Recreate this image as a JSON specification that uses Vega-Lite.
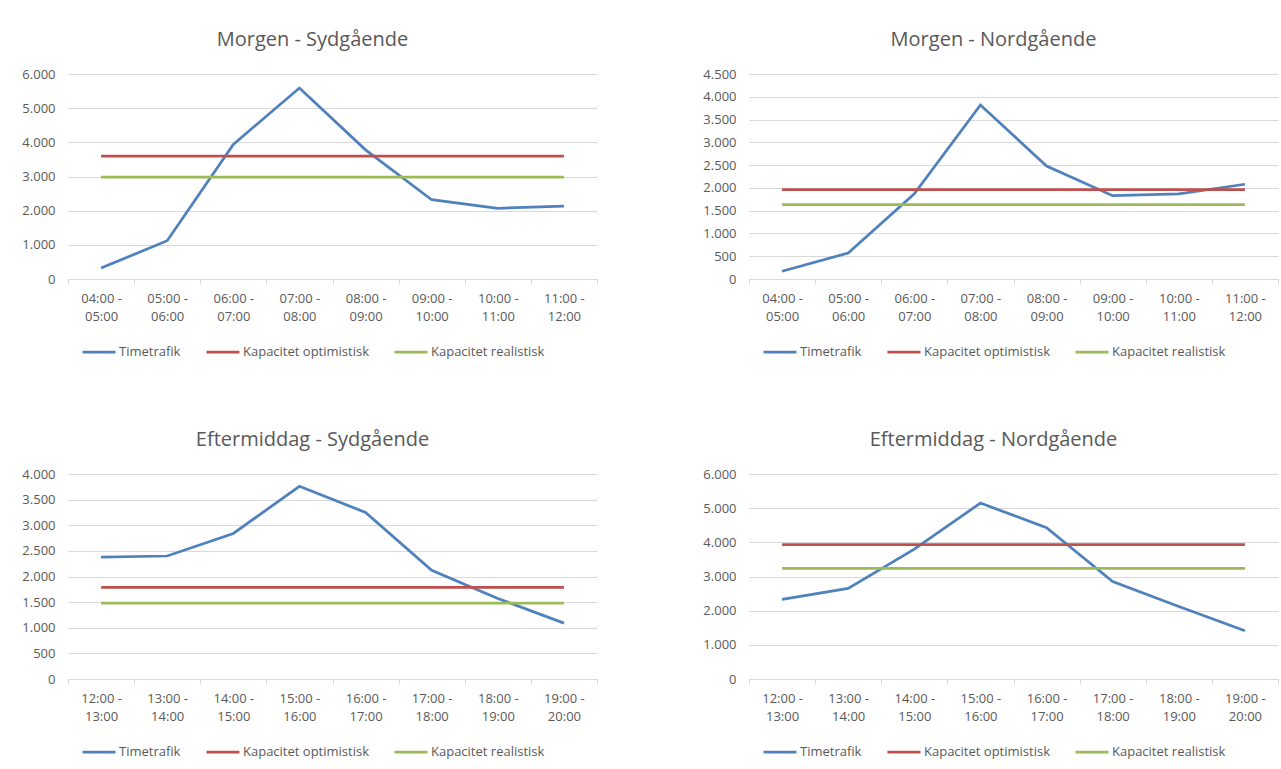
{
  "$schema": "https://vega.github.io/schema/vega-lite/v6.json",
  "background": "white",
  "padding": {"left": 21, "top": 30, "right": 0, "bottom": 0},
  "bounds": "flush",
  "columns": 2,
  "spacing": {"row": 195, "column": 152},
  "resolve": {"scale": {"color": "independent", "x": "independent", "y": "independent"}},
  "config": {
    "font": "Open Sans",
    "view": {"stroke": null},
    "axis": {"labelFont": "Open Sans", "labelFontSize": 13, "labelColor": "#595959", "gridColor": "#d9d9d9", "gridWidth": 1, "domainColor": "#d9d9d9", "tickColor": "#d9d9d9"},
    "axisX": {"grid": false, "tickBand": "extent", "tickSize": 5, "labelAngle": 0, "labelPadding": 8, "labelLineHeight": 18},
    "axisY": {"domain": false, "ticks": false, "labelPadding": 13, "grid": true},
    "legend": {"direction": "horizontal", "symbolType": "stroke", "symbolSize": 1089, "symbolStrokeWidth": 3, "labelFont": "Open Sans", "labelFontSize": 13, "labelColor": "#595959", "labelOffset": 2, "columnPadding": 20},
    "title": {"font": "Open Sans", "fontSize": 20, "fontWeight": "normal", "color": "#595959", "anchor": "middle", "dx": -20, "offset": 18},
    "line": {"strokeWidth": 2.75}
  },
  "datasets": {
    "p1": [
      {"time": "04:00 - 05:00", "series": "Timetrafik", "value": 320},
      {"time": "05:00 - 06:00", "series": "Timetrafik", "value": 1120},
      {"time": "06:00 - 07:00", "series": "Timetrafik", "value": 3940},
      {"time": "07:00 - 08:00", "series": "Timetrafik", "value": 5590},
      {"time": "08:00 - 09:00", "series": "Timetrafik", "value": 3780},
      {"time": "09:00 - 10:00", "series": "Timetrafik", "value": 2320},
      {"time": "10:00 - 11:00", "series": "Timetrafik", "value": 2070},
      {"time": "11:00 - 12:00", "series": "Timetrafik", "value": 2130},
      {"time": "04:00 - 05:00", "series": "Kapacitet optimistisk", "value": 3600},
      {"time": "05:00 - 06:00", "series": "Kapacitet optimistisk", "value": 3600},
      {"time": "06:00 - 07:00", "series": "Kapacitet optimistisk", "value": 3600},
      {"time": "07:00 - 08:00", "series": "Kapacitet optimistisk", "value": 3600},
      {"time": "08:00 - 09:00", "series": "Kapacitet optimistisk", "value": 3600},
      {"time": "09:00 - 10:00", "series": "Kapacitet optimistisk", "value": 3600},
      {"time": "10:00 - 11:00", "series": "Kapacitet optimistisk", "value": 3600},
      {"time": "11:00 - 12:00", "series": "Kapacitet optimistisk", "value": 3600},
      {"time": "04:00 - 05:00", "series": "Kapacitet realistisk", "value": 2980},
      {"time": "05:00 - 06:00", "series": "Kapacitet realistisk", "value": 2980},
      {"time": "06:00 - 07:00", "series": "Kapacitet realistisk", "value": 2980},
      {"time": "07:00 - 08:00", "series": "Kapacitet realistisk", "value": 2980},
      {"time": "08:00 - 09:00", "series": "Kapacitet realistisk", "value": 2980},
      {"time": "09:00 - 10:00", "series": "Kapacitet realistisk", "value": 2980},
      {"time": "10:00 - 11:00", "series": "Kapacitet realistisk", "value": 2980},
      {"time": "11:00 - 12:00", "series": "Kapacitet realistisk", "value": 2980}
    ],
    "p2": [
      {"time": "04:00 - 05:00", "series": "Timetrafik", "value": 170},
      {"time": "05:00 - 06:00", "series": "Timetrafik", "value": 570},
      {"time": "06:00 - 07:00", "series": "Timetrafik", "value": 1870},
      {"time": "07:00 - 08:00", "series": "Timetrafik", "value": 3820},
      {"time": "08:00 - 09:00", "series": "Timetrafik", "value": 2480},
      {"time": "09:00 - 10:00", "series": "Timetrafik", "value": 1830},
      {"time": "10:00 - 11:00", "series": "Timetrafik", "value": 1870},
      {"time": "11:00 - 12:00", "series": "Timetrafik", "value": 2080},
      {"time": "04:00 - 05:00", "series": "Kapacitet optimistisk", "value": 1960},
      {"time": "05:00 - 06:00", "series": "Kapacitet optimistisk", "value": 1960},
      {"time": "06:00 - 07:00", "series": "Kapacitet optimistisk", "value": 1960},
      {"time": "07:00 - 08:00", "series": "Kapacitet optimistisk", "value": 1960},
      {"time": "08:00 - 09:00", "series": "Kapacitet optimistisk", "value": 1960},
      {"time": "09:00 - 10:00", "series": "Kapacitet optimistisk", "value": 1960},
      {"time": "10:00 - 11:00", "series": "Kapacitet optimistisk", "value": 1960},
      {"time": "11:00 - 12:00", "series": "Kapacitet optimistisk", "value": 1960},
      {"time": "04:00 - 05:00", "series": "Kapacitet realistisk", "value": 1630},
      {"time": "05:00 - 06:00", "series": "Kapacitet realistisk", "value": 1630},
      {"time": "06:00 - 07:00", "series": "Kapacitet realistisk", "value": 1630},
      {"time": "07:00 - 08:00", "series": "Kapacitet realistisk", "value": 1630},
      {"time": "08:00 - 09:00", "series": "Kapacitet realistisk", "value": 1630},
      {"time": "09:00 - 10:00", "series": "Kapacitet realistisk", "value": 1630},
      {"time": "10:00 - 11:00", "series": "Kapacitet realistisk", "value": 1630},
      {"time": "11:00 - 12:00", "series": "Kapacitet realistisk", "value": 1630}
    ],
    "p3": [
      {"time": "12:00 - 13:00", "series": "Timetrafik", "value": 2380},
      {"time": "13:00 - 14:00", "series": "Timetrafik", "value": 2400},
      {"time": "14:00 - 15:00", "series": "Timetrafik", "value": 2840},
      {"time": "15:00 - 16:00", "series": "Timetrafik", "value": 3760},
      {"time": "16:00 - 17:00", "series": "Timetrafik", "value": 3250},
      {"time": "17:00 - 18:00", "series": "Timetrafik", "value": 2120},
      {"time": "18:00 - 19:00", "series": "Timetrafik", "value": 1570},
      {"time": "19:00 - 20:00", "series": "Timetrafik", "value": 1090},
      {"time": "12:00 - 13:00", "series": "Kapacitet optimistisk", "value": 1790},
      {"time": "13:00 - 14:00", "series": "Kapacitet optimistisk", "value": 1790},
      {"time": "14:00 - 15:00", "series": "Kapacitet optimistisk", "value": 1790},
      {"time": "15:00 - 16:00", "series": "Kapacitet optimistisk", "value": 1790},
      {"time": "16:00 - 17:00", "series": "Kapacitet optimistisk", "value": 1790},
      {"time": "17:00 - 18:00", "series": "Kapacitet optimistisk", "value": 1790},
      {"time": "18:00 - 19:00", "series": "Kapacitet optimistisk", "value": 1790},
      {"time": "19:00 - 20:00", "series": "Kapacitet optimistisk", "value": 1790},
      {"time": "12:00 - 13:00", "series": "Kapacitet realistisk", "value": 1480},
      {"time": "13:00 - 14:00", "series": "Kapacitet realistisk", "value": 1480},
      {"time": "14:00 - 15:00", "series": "Kapacitet realistisk", "value": 1480},
      {"time": "15:00 - 16:00", "series": "Kapacitet realistisk", "value": 1480},
      {"time": "16:00 - 17:00", "series": "Kapacitet realistisk", "value": 1480},
      {"time": "17:00 - 18:00", "series": "Kapacitet realistisk", "value": 1480},
      {"time": "18:00 - 19:00", "series": "Kapacitet realistisk", "value": 1480},
      {"time": "19:00 - 20:00", "series": "Kapacitet realistisk", "value": 1480}
    ],
    "p4": [
      {"time": "12:00 - 13:00", "series": "Timetrafik", "value": 2330},
      {"time": "13:00 - 14:00", "series": "Timetrafik", "value": 2650},
      {"time": "14:00 - 15:00", "series": "Timetrafik", "value": 3800},
      {"time": "15:00 - 16:00", "series": "Timetrafik", "value": 5150},
      {"time": "16:00 - 17:00", "series": "Timetrafik", "value": 4430},
      {"time": "17:00 - 18:00", "series": "Timetrafik", "value": 2850},
      {"time": "18:00 - 19:00", "series": "Timetrafik", "value": 2120},
      {"time": "19:00 - 20:00", "series": "Timetrafik", "value": 1410},
      {"time": "12:00 - 13:00", "series": "Kapacitet optimistisk", "value": 3930},
      {"time": "13:00 - 14:00", "series": "Kapacitet optimistisk", "value": 3930},
      {"time": "14:00 - 15:00", "series": "Kapacitet optimistisk", "value": 3930},
      {"time": "15:00 - 16:00", "series": "Kapacitet optimistisk", "value": 3930},
      {"time": "16:00 - 17:00", "series": "Kapacitet optimistisk", "value": 3930},
      {"time": "17:00 - 18:00", "series": "Kapacitet optimistisk", "value": 3930},
      {"time": "18:00 - 19:00", "series": "Kapacitet optimistisk", "value": 3930},
      {"time": "19:00 - 20:00", "series": "Kapacitet optimistisk", "value": 3930},
      {"time": "12:00 - 13:00", "series": "Kapacitet realistisk", "value": 3240},
      {"time": "13:00 - 14:00", "series": "Kapacitet realistisk", "value": 3240},
      {"time": "14:00 - 15:00", "series": "Kapacitet realistisk", "value": 3240},
      {"time": "15:00 - 16:00", "series": "Kapacitet realistisk", "value": 3240},
      {"time": "16:00 - 17:00", "series": "Kapacitet realistisk", "value": 3240},
      {"time": "17:00 - 18:00", "series": "Kapacitet realistisk", "value": 3240},
      {"time": "18:00 - 19:00", "series": "Kapacitet realistisk", "value": 3240},
      {"time": "19:00 - 20:00", "series": "Kapacitet realistisk", "value": 3240}
    ]
  },
  "concat": [
    {
      "title": "Morgen - Sydgående",
      "width": 529, "height": 205,
      "data": {"name": "p1"},
      "mark": {"type": "line"},
      "encoding": {
        "x": {"field": "time", "type": "ordinal", "title": null, "scale": {"type": "band", "paddingInner": 0, "paddingOuter": 0}, "axis": {"labelExpr": "[slice(datum.label,0,7), slice(datum.label,8)]"}},
        "y": {"field": "value", "type": "quantitative", "title": null, "scale": {"domain": [0, 6000]}, "axis": {"values": [0, 1000, 2000, 3000, 4000, 5000, 6000], "labelExpr": "replace(format(datum.value, ',d'), ',', '.')"}},
        "color": {"field": "series", "type": "nominal", "scale": {"domain": ["Timetrafik", "Kapacitet optimistisk", "Kapacitet realistisk"], "range": ["#4F81BD", "#C0504D", "#9BBB59"]}, "legend": {"title": null, "orient": "none", "legendX": 13, "legendY": 260, "direction": "horizontal"}}
      }
    },
    {
      "title": "Morgen - Nordgående",
      "width": 529, "height": 205,
      "data": {"name": "p2"},
      "mark": {"type": "line"},
      "encoding": {
        "x": {"field": "time", "type": "ordinal", "title": null, "scale": {"type": "band", "paddingInner": 0, "paddingOuter": 0}, "axis": {"labelExpr": "[slice(datum.label,0,7), slice(datum.label,8)]"}},
        "y": {"field": "value", "type": "quantitative", "title": null, "scale": {"domain": [0, 4500]}, "axis": {"values": [0, 500, 1000, 1500, 2000, 2500, 3000, 3500, 4000, 4500], "labelExpr": "replace(format(datum.value, ',d'), ',', '.')"}},
        "color": {"field": "series", "type": "nominal", "scale": {"domain": ["Timetrafik", "Kapacitet optimistisk", "Kapacitet realistisk"], "range": ["#4F81BD", "#C0504D", "#9BBB59"]}, "legend": {"title": null, "orient": "none", "legendX": 13, "legendY": 260, "direction": "horizontal"}}
      }
    },
    {
      "title": "Eftermiddag - Sydgående",
      "width": 529, "height": 205,
      "data": {"name": "p3"},
      "mark": {"type": "line"},
      "encoding": {
        "x": {"field": "time", "type": "ordinal", "title": null, "scale": {"type": "band", "paddingInner": 0, "paddingOuter": 0}, "axis": {"labelExpr": "[slice(datum.label,0,7), slice(datum.label,8)]"}},
        "y": {"field": "value", "type": "quantitative", "title": null, "scale": {"domain": [0, 4000]}, "axis": {"values": [0, 500, 1000, 1500, 2000, 2500, 3000, 3500, 4000], "labelExpr": "replace(format(datum.value, ',d'), ',', '.')"}},
        "color": {"field": "series", "type": "nominal", "scale": {"domain": ["Timetrafik", "Kapacitet optimistisk", "Kapacitet realistisk"], "range": ["#4F81BD", "#C0504D", "#9BBB59"]}, "legend": {"title": null, "orient": "none", "legendX": 13, "legendY": 260, "direction": "horizontal"}}
      }
    },
    {
      "title": "Eftermiddag - Nordgående",
      "width": 529, "height": 205,
      "data": {"name": "p4"},
      "mark": {"type": "line"},
      "encoding": {
        "x": {"field": "time", "type": "ordinal", "title": null, "scale": {"type": "band", "paddingInner": 0, "paddingOuter": 0}, "axis": {"labelExpr": "[slice(datum.label,0,7), slice(datum.label,8)]"}},
        "y": {"field": "value", "type": "quantitative", "title": null, "scale": {"domain": [0, 6000]}, "axis": {"values": [0, 1000, 2000, 3000, 4000, 5000, 6000], "labelExpr": "replace(format(datum.value, ',d'), ',', '.')"}},
        "color": {"field": "series", "type": "nominal", "scale": {"domain": ["Timetrafik", "Kapacitet optimistisk", "Kapacitet realistisk"], "range": ["#4F81BD", "#C0504D", "#9BBB59"]}, "legend": {"title": null, "orient": "none", "legendX": 13, "legendY": 260, "direction": "horizontal"}}
      }
    }
  ]
}
